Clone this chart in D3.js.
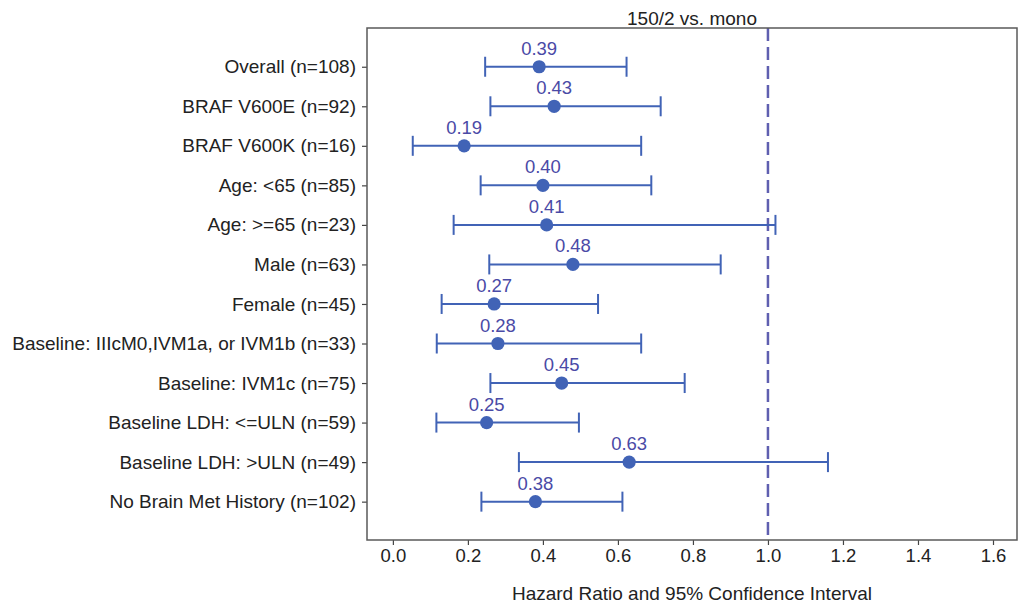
<!DOCTYPE html>
<html>
<head>
<meta charset="utf-8">
<script src="https://cdn.jsdelivr.net/npm/d3@7"></script>
<style>
  html, body { margin: 0; padding: 0; background: #fff; }
  svg { display: block; font-family: "Liberation Sans", Arial, sans-serif; }
</style>
</head>
<body>
<svg id="chart" width="1024" height="605"></svg>
<script>
const categories = [
  "Overall (n=108)",
  "BRAF V600E (n=92)",
  "BRAF V600K (n=16)",
  "Age: <65 (n=85)",
  "Age: >=65 (n=23)",
  "Male (n=63)",
  "Female (n=45)",
  "Baseline: IIIcM0,IVM1a, or IVM1b (n=33)",
  "Baseline: IVM1c (n=75)",
  "Baseline LDH: <=ULN (n=59)",
  "Baseline LDH: >ULN (n=49)",
  "No Brain Met History (n=102)"
];
const hazardRatio = [0.39, 0.43, 0.19, 0.40, 0.41, 0.48, 0.27, 0.28, 0.45, 0.25, 0.63, 0.38];
const lowerCI     = [0.246, 0.260, 0.053, 0.234, 0.162, 0.257, 0.130, 0.117, 0.260, 0.116, 0.336, 0.236];
const upperCI     = [0.623, 0.714, 0.662, 0.689, 1.020, 0.874, 0.547, 0.662, 0.778, 0.496, 1.160, 0.612];
const xTicks = [0.0, 0.2, 0.4, 0.6, 0.8, 1.0, 1.2, 1.4, 1.6];
const referenceValue = 1.0;
const title = "150/2 vs. mono";
const xLabel = "Hazard Ratio and 95% Confidence Interval";

const svg = d3.select("#chart");
const pLeft = 367, pRight = 1017, pTop = 28, pBottom = 540;
const FONT = "Liberation Sans, Arial, sans-serif";

const x = d3.scaleLinear().domain([-0.069, 1.664]).range([pLeft, pRight]);
const y = d3.scaleLinear().domain([-0.98, categories.length - 0.03]).range([pTop, pBottom]);

const barColor = "#4163b6";
const labelColor = "#4a4aa6";
const refColor = "#5f5fb0";

// reference line
svg.append("line")
  .attr("x1", x(referenceValue)).attr("x2", x(referenceValue))
  .attr("y1", pTop).attr("y2", pBottom)
  .attr("stroke", refColor).attr("stroke-width", 2.5)
  .attr("stroke-dasharray", "13,6");

const rows = svg.append("g").selectAll("g")
  .data(categories.map((c, i) => ({c, i, hr: hazardRatio[i], lo: lowerCI[i], hi: upperCI[i]})))
  .join("g");

rows.append("line")
  .attr("x1", d => x(d.lo)).attr("x2", d => x(d.hi))
  .attr("y1", d => y(d.i)).attr("y2", d => y(d.i))
  .attr("stroke", barColor).attr("stroke-width", 2);
rows.append("line")
  .attr("x1", d => x(d.lo)).attr("x2", d => x(d.lo))
  .attr("y1", d => y(d.i) - 10).attr("y2", d => y(d.i) + 10)
  .attr("stroke", barColor).attr("stroke-width", 2);
rows.append("line")
  .attr("x1", d => x(d.hi)).attr("x2", d => x(d.hi))
  .attr("y1", d => y(d.i) - 10).attr("y2", d => y(d.i) + 10)
  .attr("stroke", barColor).attr("stroke-width", 2);
rows.append("circle")
  .attr("cx", d => x(d.hr)).attr("cy", d => y(d.i))
  .attr("r", 6.6).attr("fill", barColor);
rows.append("text")
  .attr("x", d => x(d.hr)).attr("y", d => y(d.i) - 12)
  .attr("text-anchor", "middle")
  .attr("font-size", 18.5).attr("fill", labelColor).attr("font-family", FONT)
  .text(d => d3.format(".2f")(d.hr));

// axes
const xAxis = d3.axisBottom(x).tickValues(xTicks).tickFormat(d3.format(".1f")).tickSize(5).tickPadding(4);
const gx = svg.append("g").attr("transform", `translate(0,${pBottom})`).call(xAxis);
gx.select(".domain").remove();
gx.selectAll("line").attr("stroke", "#444").attr("stroke-width", 1.2);
gx.selectAll("text").attr("font-size", 18.5).attr("fill", "#222").attr("font-family", FONT);

const yAxis = d3.axisLeft(y).tickValues(d3.range(categories.length)).tickFormat(i => categories[i]).tickSize(5).tickPadding(6);
const gy = svg.append("g").attr("transform", `translate(${pLeft},0)`).call(yAxis);
gy.select(".domain").remove();
gy.selectAll("line").attr("stroke", "#444").attr("stroke-width", 1.2);
gy.selectAll("text").attr("font-size", 19).attr("fill", "#222").attr("font-family", FONT);

// frame
svg.append("rect")
  .attr("x", pLeft).attr("y", pTop).attr("width", pRight - pLeft).attr("height", pBottom - pTop)
  .attr("fill", "none").attr("stroke", "#5a5a5a").attr("stroke-width", 1.5);

svg.append("text")
  .attr("x", (pLeft + pRight) / 2).attr("y", 25)
  .attr("text-anchor", "middle").attr("font-size", 19).attr("fill", "#222").attr("font-family", FONT)
  .text(title);

svg.append("text")
  .attr("x", (pLeft + pRight) / 2).attr("y", 600)
  .attr("text-anchor", "middle").attr("font-size", 19).attr("fill", "#222").attr("font-family", FONT)
  .text(xLabel);
</script>
</body>
</html>
